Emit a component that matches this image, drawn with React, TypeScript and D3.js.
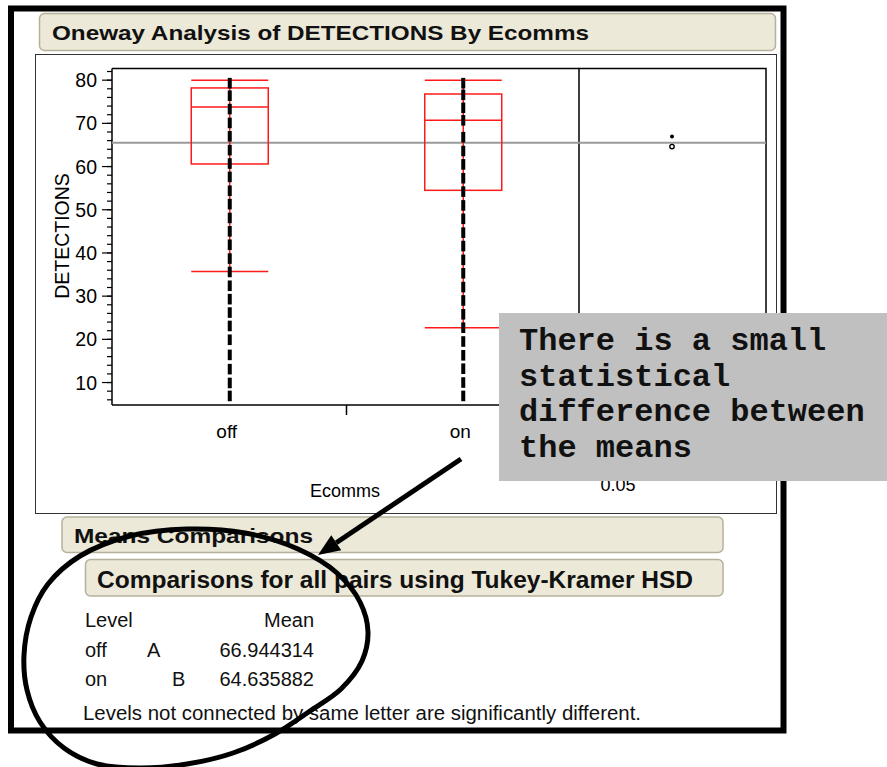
import { useEffect, useRef } from 'react';
import * as d3 from 'd3';

// group summary
const groups = ['off', 'on'];
const whiskerHigh = [80, 80];
const quartile3 = [78.2, 76.8];
const medians = [73.8, 70.7];
const quartile1 = [60.6, 54.5];
const whiskerLow = [35.7, 22.7];
const groupMeans = [66.944314, 64.635882];
const meanLabels = ['66.944314', '64.635882'];
const connectLetters = ['A', 'B'];
const grandMean = 65.5;

// stacked observations in each column
const offPoints = [6.9, 9.9, 13.1, 16.4, 19.9, 23.1, 26.2, 29.3, 32.4, 35.6, 38.7, 41.9, 45.0, 48.1, 51.3, 54.4, 57.6, 60.7, 63.8, 67.0, 70.1, 73.3, 76.4, 79.3];
const onPoints = [6.9, 10.0, 13.2, 16.3, 19.5, 22.7, 25.8, 29.0, 32.1, 35.3, 38.4, 41.6, 44.7, 47.9, 51.0, 54.2, 57.3, 60.5, 63.6, 66.8, 70.7, 73.6, 76.6, 79.3];
const yTickValues = [10, 20, 30, 40, 50, 60, 70, 80];

const calloutLines = ['There is a small', 'statistical', 'difference between', 'the means'];

const SANS = 'Liberation Sans, Arial, Helvetica, sans-serif';
const MONO = '"Courier New", "Liberation Mono", "DejaVu Sans Mono", monospace';

function App() {
  const svgRef = useRef(null);

  useEffect(() => {
    const svg = d3.select(svgRef.current);
    svg.selectAll('*').remove();

    const left = 112, right = 579, top = 68.5, bottom = 405, panelRight = 766;

    const x = d3.scaleBand().domain(groups).range([113, 580]);
    const y = d3.scaleLinear().domain([4.8, 82.7]).range([bottom, top]);
    const boxW = 77;

    // outer thick frame
    svg.append('rect')
      .attr('x', 11).attr('y', 8.5).attr('width', 772.5).attr('height', 722)
      .attr('fill', 'none').attr('stroke', '#000').attr('stroke-width', 6);

    const header = (hx, hy, hw, hh, label, tx, ty, fs, len) => {
      svg.append('rect')
        .attr('x', hx).attr('y', hy).attr('width', hw).attr('height', hh)
        .attr('rx', 5).attr('fill', '#ece9d8')
        .attr('stroke', '#b5b19c').attr('stroke-width', 1.5);
      svg.append('text')
        .attr('x', tx).attr('y', ty)
        .attr('font-family', SANS).attr('font-weight', 'bold').attr('font-size', fs)
        .attr('textLength', len).attr('lengthAdjust', 'spacingAndGlyphs')
        .attr('fill', '#111')
        .text(label);
    };

    header(39.5, 13.5, 736, 37, 'Oneway Analysis of DETECTIONS By Ecomms', 52, 40, 21, 537);

    // report frame around the plot
    svg.append('rect')
      .attr('x', 35.5).attr('y', 54.5).attr('width', 741).attr('height', 459)
      .attr('fill', '#fff').attr('stroke', '#333').attr('stroke-width', 1);

    // right panel (comparison circles)
    svg.append('rect')
      .attr('x', right).attr('y', top).attr('width', panelRight - right).attr('height', bottom - top)
      .attr('fill', 'none').attr('stroke', '#000').attr('stroke-width', 1.5);

    // y axis
    svg.append('line')
      .attr('x1', left).attr('x2', left).attr('y1', top).attr('y2', bottom)
      .attr('stroke', '#000').attr('stroke-width', 1.5);
    svg.append('line')
      .attr('x1', left).attr('x2', right).attr('y1', top).attr('y2', top)
      .attr('stroke', '#000').attr('stroke-width', 1.5);
    svg.append('line')
      .attr('x1', left).attr('x2', right).attr('y1', bottom).attr('y2', bottom)
      .attr('stroke', '#000').attr('stroke-width', 1.5);

    svg.append('g').selectAll('line').data(y.ticks(40))
      .enter().append('line')
      .attr('x1', left - 5).attr('x2', left)
      .attr('y1', d => y(d)).attr('y2', d => y(d))
      .attr('stroke', '#000').attr('stroke-width', 1.2);

    svg.append('g').selectAll('line').data(yTickValues)
      .enter().append('line')
      .attr('x1', left - 10).attr('x2', left)
      .attr('y1', d => y(d)).attr('y2', d => y(d))
      .attr('stroke', '#000').attr('stroke-width', 1.2);

    svg.append('g').selectAll('text').data(yTickValues)
      .enter().append('text')
      .attr('x', 97).attr('y', d => y(d) + 7)
      .attr('text-anchor', 'end')
      .attr('font-family', SANS).attr('font-size', 19.5)
      .text(d => d);

    svg.append('text')
      .attr('transform', 'translate(68.5,236) rotate(-90)')
      .attr('text-anchor', 'middle')
      .attr('font-family', SANS).attr('font-size', 19.5)
      .text('DETECTIONS');

    // x axis: tick between the two levels
    svg.append('line')
      .attr('x1', x('on')).attr('x2', x('on')).attr('y1', bottom).attr('y2', bottom + 10)
      .attr('stroke', '#000').attr('stroke-width', 1.5);

    svg.append('g').selectAll('text').data(groups)
      .enter().append('text')
      .attr('x', d => x(d) + x.bandwidth() / 2 - 3).attr('y', 438)
      .attr('text-anchor', 'middle')
      .attr('font-family', SANS).attr('font-size', 19)
      .text(d => d);

    svg.append('text')
      .attr('x', 345).attr('y', 497).attr('text-anchor', 'middle')
      .attr('font-family', SANS).attr('font-size', 18)
      .text('Ecomms');

    svg.append('text')
      .attr('x', 618).attr('y', 491).attr('text-anchor', 'middle')
      .attr('font-family', SANS).attr('font-size', 18)
      .text('0.05');

    // grand mean line
    svg.append('line')
      .attr('x1', left).attr('x2', panelRight)
      .attr('y1', y(grandMean)).attr('y2', y(grandMean))
      .attr('stroke', '#9a9a9a').attr('stroke-width', 2);

    // quantile boxes
    const boxes = svg.append('g');
    groups.forEach((g, i) => {
      const cx = x(g) + x.bandwidth() / 2;
      const red = '#ff1a1a';
      boxes.append('line')
        .attr('x1', cx).attr('x2', cx).attr('y1', y(whiskerHigh[i])).attr('y2', y(whiskerLow[i]))
        .attr('stroke', red).attr('stroke-width', 1.5);
      boxes.append('rect')
        .attr('x', cx - boxW / 2).attr('width', boxW)
        .attr('y', y(quartile3[i])).attr('height', y(quartile1[i]) - y(quartile3[i]))
        .attr('fill', 'none').attr('stroke', red).attr('stroke-width', 1.5);
      [medians[i], whiskerHigh[i], whiskerLow[i]].forEach(v => {
        boxes.append('line')
          .attr('x1', cx - boxW / 2).attr('x2', cx + boxW / 2)
          .attr('y1', y(v)).attr('y2', y(v))
          .attr('stroke', red).attr('stroke-width', 1.5);
      });
    });

    // observations
    const pointSets = [offPoints, onPoints];
    groups.forEach((g, i) => {
      const cx = x(g) + x.bandwidth() / 2;
      svg.append('g').selectAll('rect').data(pointSets[i])
        .enter().append('rect')
        .attr('x', cx - 2).attr('width', 4)
        .attr('y', d => y(d) - 5.3).attr('height', 10.6)
        .attr('fill', '#000');
    });

    // comparison circles
    const circleX = 672;
    svg.append('circle')
      .attr('cx', circleX).attr('cy', y(groupMeans[0])).attr('r', 2)
      .attr('fill', '#000');
    svg.append('circle')
      .attr('cx', circleX).attr('cy', y(groupMeans[1])).attr('r', 2.2)
      .attr('fill', '#fff').attr('stroke', '#000').attr('stroke-width', 1.4);

    // means comparisons report
    header(62, 517, 661, 35.5, 'Means Comparisons', 74, 543, 21, 239);
    header(85.5, 559.5, 637.5, 36.5, 'Comparisons for all pairs using Tukey-Kramer HSD', 97, 587.5, 23, 596);

    const table = svg.append('g').attr('font-family', SANS).attr('font-size', 20).attr('fill', '#111');
    table.append('text').attr('x', 85).attr('y', 627).text('Level');
    table.append('text').attr('x', 314).attr('y', 627).attr('text-anchor', 'end').text('Mean');
    const rowY = [657, 686];
    const letterX = [147, 172];
    groups.forEach((g, i) => {
      table.append('text').attr('x', 85).attr('y', rowY[i]).text(g);
      table.append('text').attr('x', letterX[i]).attr('y', rowY[i]).text(connectLetters[i]);
      table.append('text').attr('x', 314).attr('y', rowY[i]).attr('text-anchor', 'end').text(meanLabels[i]);
    });
    table.append('text').attr('x', 83).attr('y', 720)
      .attr('textLength', 558).attr('lengthAdjust', 'spacingAndGlyphs')
      .text('Levels not connected by same letter are significantly different.');

    // callout
    svg.append('rect')
      .attr('x', 499).attr('y', 313).attr('width', 400).attr('height', 168)
      .attr('fill', '#c0c0c0');
    svg.append('g').selectAll('text').data(calloutLines)
      .enter().append('text')
      .attr('x', 519).attr('y', (d, i) => 350 + i * 35.7)
      .attr('font-family', MONO).attr('font-weight', 'bold').attr('font-size', 32)
      .attr('fill', '#111')
      .text(d => d);

    // arrow
    const tip = [318, 555], tail = [461, 459];
    const dx = tail[0] - tip[0], dy = tail[1] - tip[1];
    const len = Math.hypot(dx, dy);
    const ux = dx / len, uy = dy / len;
    const base = [tip[0] + ux * 22, tip[1] + uy * 22];
    svg.append('line')
      .attr('x1', tail[0]).attr('y1', tail[1]).attr('x2', base[0]).attr('y2', base[1])
      .attr('stroke', '#000').attr('stroke-width', 5);
    svg.append('polygon')
      .attr('points', [
        tip,
        [base[0] + uy * 9, base[1] - ux * 9],
        [base[0] - uy * 9, base[1] + ux * 9],
      ].map(p => p.join(',')).join(' '))
      .attr('fill', '#000');

    // hand-drawn ellipse
    const loop = [
      [187, 529], [245, 533], [298, 549], [337, 573], [360, 602], [368, 632], [362, 661],
      [341, 689], [310, 711], [275, 734], [233, 753], [187, 764], [140, 768], [97, 764],
      [64, 748], [40, 722], [27, 690], [24, 655], [31, 617], [48, 584], [80, 556], [130, 536],
    ];
    svg.append('path')
      .attr('d', d3.line().curve(d3.curveCatmullRomClosed)(loop))
      .attr('fill', 'none').attr('stroke', '#000').attr('stroke-width', 5);
  }, []);

  return (
    <svg
      ref={svgRef}
      width={887}
      height={767}
      style={{ position: 'absolute', left: 0, top: 0, background: '#fff' }}
    />
  );
}

export default App;
